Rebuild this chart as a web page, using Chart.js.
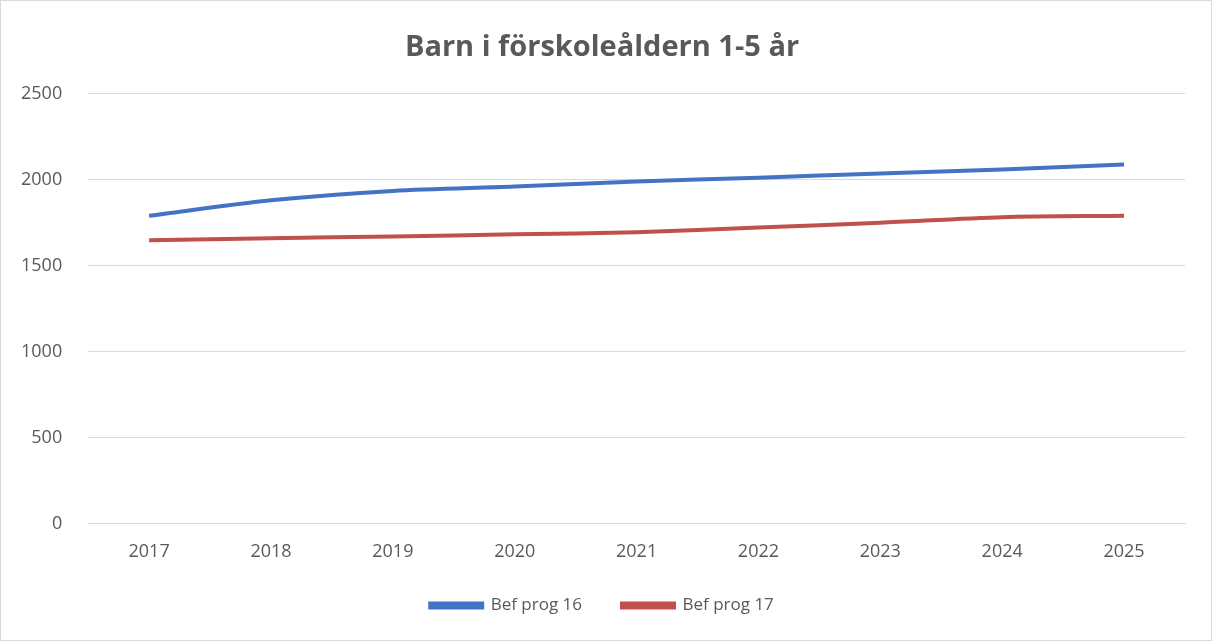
<!DOCTYPE html>
<html>
<head>
<meta charset="utf-8">
<script src="https://cdn.jsdelivr.net/npm/chart.js@4"></script>
<style>
  html, body { margin: 0; padding: 0; background: #fff; }
  #wrap { width: 1212px; height: 641px; box-sizing: border-box; border: 1px solid #d9d9d9; }
</style>
</head>
<body>
<div id="wrap"><canvas id="chart" width="1210" height="639"></canvas></div>
<script>
/* ─── DATA ─── */
const years  = ['2017', '2018', '2019', '2020', '2021', '2022', '2023', '2024', '2025'];
const prog16 = [1790, 1880, 1935, 1960, 1990, 2012, 2036, 2060, 2088];
const prog17 = [1648, 1660, 1670, 1682, 1695, 1722, 1750, 1782, 1790];

const BLUE = '#4472c4';
const RED  = '#c0504d';
const FONT = "'Open Sans', 'Liberation Sans', sans-serif";

new Chart(document.getElementById('chart'), {
  type: 'line',
  data: {
    labels: years,
    datasets: [
      { label: 'Bef prog 16', data: prog16, borderColor: BLUE, backgroundColor: BLUE,
        borderWidth: 4, pointRadius: 0, tension: 0.3 },
      { label: 'Bef prog 17', data: prog17, borderColor: RED, backgroundColor: RED,
        borderWidth: 4, pointRadius: 0, tension: 0.3 }
    ]
  },
  options: {
    responsive: false,
    animation: false,
    layout: { padding: { left: 18, right: 26, top: 10, bottom: 16 } },
    plugins: {
      title: {
        display: true,
        text: 'Barn i förskoleåldern 1-5 år',
        color: '#595959',
        font: { family: FONT, size: 29, weight: 'bold' },
        padding: { top: 19, bottom: 29 }
      },
      legend: {
        position: 'bottom',
        labels: {
          color: '#595959',
          font: { family: FONT, size: 17 },
          boxWidth: 52, boxHeight: 4,
          padding: 40
        }
      },
      tooltip: { enabled: false }
    },
    scales: {
      x: {
        offset: true,
        grid: { display: false, drawTicks: false },
        border: { color: '#d9d9d9' },
        ticks: { color: '#595959', font: { family: FONT, size: 18 }, padding: 18 },
        afterFit: (axis) => { axis.height -= 24; }
      },
      y: {
        min: 0, max: 2500,
        ticks: {
          stepSize: 500, color: '#595959', font: { family: FONT, size: 18 }, padding: 26,
          callback: (v) => String(v)
        },
        grid: { color: '#d9d9d9', drawTicks: false },
        border: { display: false },
        afterFit: (axis) => { axis.width -= 24; }
      }
    }
  }
});
</script>
</body>
</html>
